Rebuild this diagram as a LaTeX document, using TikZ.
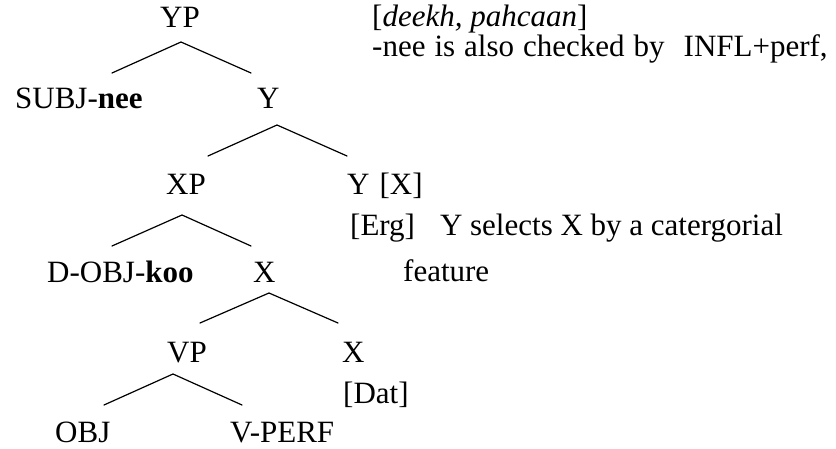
\documentclass[tikz,border=0pt]{standalone}
\usepackage{fontspec}
\setmainfont{Liberation Serif}
\begin{document}
\begin{tikzpicture}[x=1pt,y=-1pt,
  lbl/.style={inner sep=0pt, anchor=base west, font=\fontsize{31}{36}\selectfont},
  branch/.style={line width=1.2pt, line cap=round, line join=miter}]
\useasboundingbox (0,0) rectangle (836,449);
% labels
\node[lbl] (YP) at (160,28) {YP};
\node[lbl] (feat1) at (372,27) {[\textit{deekh, pahcaan}]};
\node[lbl] (feat2) at (372,57) {-nee\hspace{9pt}is\hspace{9pt}also\hspace{9pt}checked\hspace{9pt}by\hspace{19pt}INFL+perf,};
\node[lbl] (SUBJ) at (15,109) {SUBJ-\textbf{nee}};
\node[lbl] (Y1) at (257,109) {Y};
\node[lbl] (XP) at (166,195) {XP};
\node[lbl] (Y2) at (347,195) {Y\hspace{10pt}[X]};
\node[lbl] (erg) at (350,236) {[Erg]\hspace{25pt}Y selects X by a catergorial};
\node[lbl] (featw) at (403,282) {feature};
\node[lbl] (DOBJ) at (47,283) {D-OBJ-\textbf{koo}};
\node[lbl] (X1) at (253,283) {X};
\node[lbl] (VP) at (167,362) {VP};
\node[lbl] (X2) at (342,362) {X};
\node[lbl] (dat) at (343,403) {[Dat]};
\node[lbl] (OBJ) at (55,442) {OBJ};
\node[lbl] (VPERF) at (230,442) {V-PERF};
% branch points
\coordinate (YPa) at (181,42);  \coordinate (YPl) at (112,73);  \coordinate (YPr) at (251,73);
\coordinate (Ya)  at (277,125); \coordinate (Yl)  at (208,156); \coordinate (Yr)  at (347,156);
\coordinate (XPa) at (182,215); \coordinate (XPl) at (112,246); \coordinate (XPr) at (251,246);
\coordinate (Xa)  at (269,293); \coordinate (Xl)  at (200,323); \coordinate (Xr)  at (338,323);
\coordinate (VPa) at (173,374); \coordinate (VPl) at (104,405); \coordinate (VPr) at (242,405);
\draw[branch] (YPl) -- (YPa) -- (YPr);
\draw[branch] (Yl) -- (Ya) -- (Yr);
\draw[branch] (XPl) -- (XPa) -- (XPr);
\draw[branch] (Xl) -- (Xa) -- (Xr);
\draw[branch] (VPl) -- (VPa) -- (VPr);
\end{tikzpicture}
\end{document}
